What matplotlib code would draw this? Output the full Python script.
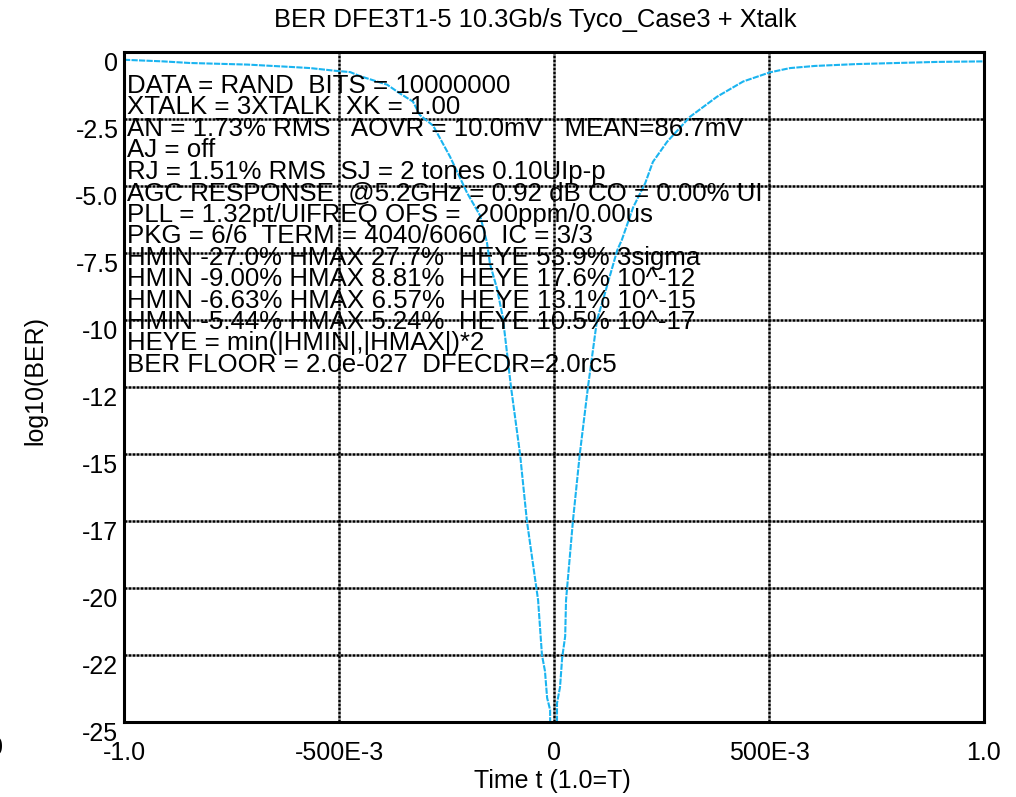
import matplotlib
matplotlib.use("Agg")
import matplotlib.pyplot as plt

plt.rcParams['font.family'] = ['Liberation Sans', 'DejaVu Sans']

# bathtub curve, left and right edges (time in UI, log10 of BER)
t_left = [-1.0, -0.909, -0.847, -0.712, -0.609, -0.567, -0.509, -0.474, -0.451,
          -0.388, -0.358, -0.328, -0.312, -0.281, -0.242, -0.202, -0.172, -0.156,
          -0.149, -0.133, -0.119, -0.100, -0.079, -0.063, -0.037, -0.028, -0.021,
          -0.016, -0.009, -0.009]
ber_left = [-0.29, -0.35, -0.41, -0.47, -0.56, -0.60, -0.70, -0.75, -0.90,
            -1.22, -1.55, -1.85, -2.35, -2.75, -3.9, -5.26, -6.1, -7.1,
            -7.9, -8.8, -9.9, -12.5, -15.0, -17.5, -20.45, -22.5, -23.1,
            -24.1, -24.55, -25.0]

t_right = [0.007, 0.007, 0.014, 0.019, 0.026, 0.028, 0.044, 0.060, 0.079, 0.100,
           0.114, 0.147, 0.158, 0.184, 0.212, 0.230, 0.263, 0.316, 0.379, 0.440,
           0.502, 0.549, 0.607, 0.705, 0.891, 1.0]
ber_right = [-25.0, -24.3, -23.7, -22.6, -21.8, -20.45, -17.5, -15.0, -12.5, -10.0,
             -9.25, -7.4, -7.0, -5.8, -4.9, -4.1, -3.35, -2.42, -1.67, -1.10,
             -0.76, -0.60, -0.52, -0.45, -0.37, -0.35]

y_ticks = [0, -2.5, -5.0, -7.5, -10, -12.5, -15, -17.5, -20, -22.5, -25]
y_labels = ["0", "-2.5", "-5.0", "-7.5", "-10", "-12", "-15", "-17", "-20", "-22", "-25"]
x_ticks = [-1.0, -0.5, 0.0, 0.5, 1.0]
x_labels = ["-1.0", "-500E-3", "0", "500E-3", "1.0"]

info_lines = [
    "DATA = RAND  BITS = 10000000",
    "XTALK = 3XTALK  XK = 1.00",
    "AN = 1.73% RMS   AOVR = 10.0mV   MEAN=86.7mV",
    "AJ = off",
    "RJ = 1.51% RMS  SJ = 2 tones 0.10UIp-p",
    "AGC RESPONSE  @5.2GHz = 0.92 dB CO = 0.00% UI",
    "PLL = 1.32pt/UI",
    "PKG = 6/6  TERM = 4040/6060  IC = 3/3",
    "HMIN -27.0% HMAX 27.7%  HEYE 53.9% 3sigma",
    "HMIN -9.00% HMAX 8.81%  HEYE 17.6% 10^-12",
    "HMIN -6.63% HMAX 6.57%  HEYE 13.1% 10^-15",
    "HMIN -5.44% HMAX 5.24%  HEYE 10.5% 10^-17",
    "HEYE = min(|HMIN|,|HMAX|)*2",
    "BER FLOOR = 2.0e-027  DFECDR=2.0rc5",
]
pll_tail = "FREQ OFS =  200ppm/0.00us"

W, H = 1016, 797
fig = plt.figure(figsize=(W / 100, H / 100), dpi=100)
ax = fig.add_axes([124 / W, 1 - 722 / H, 860 / W, 670 / H])

curve_color = "#1ab4f0"
ax.plot(t_left, ber_left, color=curve_color, lw=1.5, ls=(0, (3, 0.6)))
ax.plot(t_right, ber_right, color=curve_color, lw=1.5, ls=(0, (3, 0.6)))

ax.set_xlim(-1, 1)
ax.set_ylim(-25, 0)
ax.set_xticks(x_ticks)
ax.set_xticklabels(x_labels)
ax.set_yticks(y_ticks)
ax.set_yticklabels(y_labels, va="top")
ax.tick_params(length=0, labelsize=18)
ax.tick_params(axis="x", pad=14)
ax.tick_params(axis="y", pad=4)
ax.grid(True, color="black", lw=1.8, ls=(0, (1.2, 0.4)))
for s in ax.spines.values():
    s.set_linewidth(2.2)

# parameter block, one line every ~21.4 px
fs = 18.6
for i, line in enumerate(info_lines):
    y = 93 + i * 21.45
    fig.text(127 / W, 1 - y / H, line, fontsize=fs, va="baseline", ha="left")
fig.text(306 / W, 1 - (93 + 6 * 21.45) / H, pll_tail, fontsize=fs, va="baseline", ha="left")

fig.text(535 / W, 1 - 20 / H, "BER DFE3T1-5 10.3Gb/s Tyco_Case3 + Xtalk",
         fontsize=18.4, ha="center", va="center")
fig.text(552 / W, 1 - 781 / H, "Time t (1.0=T)", fontsize=18, ha="center", va="center")
fig.text(35 / W, 1 - 380 / H, "log10(BER)", fontsize=18, ha="center", va="center",
         rotation=90)
fig.text(3 / W, 1 - 748 / H, "0", fontsize=18, ha="right", va="center")

fig.savefig("out.png", dpi=100)
